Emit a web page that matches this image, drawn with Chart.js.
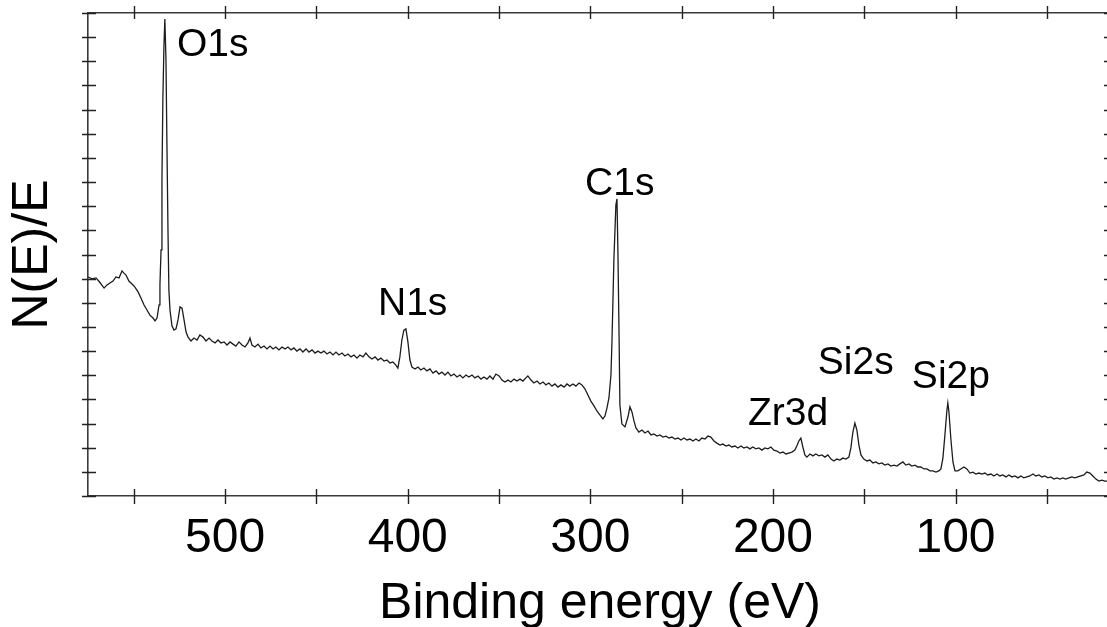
<!DOCTYPE html>
<html>
<head>
<meta charset="utf-8">
<title>XPS survey spectrum</title>
<script src="https://cdn.jsdelivr.net/npm/chart.js@4.4.0/dist/chart.umd.min.js"></script>
<style>
  html, body { margin: 0; padding: 0; background: #fff; overflow: hidden; }
  #wrap { width: 1114px; height: 627px; }
</style>
</head>
<body>
<div id="wrap"><canvas id="xps"></canvas></div>
<script>
// binding energy (eV) left to right
const bindingEnergy = [
  575, 572.9, 570.7, 568.8, 566.3, 564.7, 563.1, 561.4, 559.8, 558.1,
  556.5, 555.4, 554.3, 552.7, 551.0, 549.4, 547.7, 546.1, 544.4, 542.8,
  541.2, 539.5, 538.4, 537.3, 536.2, 535.7, 535.1, 534.6, 534.1, 533.5,
  533.0, 532.4, 531.9, 531.3, 530.8, 530.2, 529.1, 528.0, 526.9, 525.8,
  524.7, 523.6, 522.5, 521.4, 520.3, 518.7, 517.1, 515.4, 513.8, 512.1,
  510.5, 508.8, 507.2, 505.5, 503.9, 502.3, 500.6, 499.0, 497.3, 495.7,
  494.1, 492.4, 490.8, 489.1, 487.5, 486.4, 485.3, 483.7, 482.0, 480.4,
  478.7, 477.1, 475.4, 473.8, 472.2, 470.5, 468.9, 467.2, 465.6, 463.9,
  462.3, 460.7, 459.0, 457.4, 455.7, 454.1, 452.4, 450.8, 449.2, 447.5,
  445.9, 444.2, 442.6, 440.9, 439.3, 437.7, 436.0, 434.4, 432.7, 431.1,
  429.4, 427.8, 426.2, 424.5, 422.9, 421.2, 419.6, 417.9, 416.3, 414.7,
  413.0, 411.4, 409.7, 408.1, 406.5, 405.4, 404.3, 403.2, 402.1, 401.0,
  399.9, 398.8, 397.7, 396.0, 394.4, 392.8, 391.1, 389.5, 387.8, 386.2,
  384.5, 382.9, 381.3, 379.6, 378.0, 376.3, 374.7, 373.0, 371.4, 369.8,
  368.1, 366.5, 364.8, 363.2, 361.5, 359.9, 358.3, 356.6, 355.0, 353.3,
  351.7, 350.0, 348.4, 346.8, 345.1, 343.5, 341.8, 340.2, 338.5, 336.9,
  335.3, 334.2, 332.5, 330.9, 329.2, 327.6, 325.9, 324.3, 322.7, 321.0,
  319.4, 317.7, 316.1, 314.4, 312.8, 311.2, 309.5, 307.9, 306.2, 304.6,
  302.9, 301.3, 299.7, 298.0, 296.4, 294.7, 293.1, 292.0, 290.9, 289.8,
  288.7, 288.2, 287.6, 287.1, 286.5, 286.0, 285.4, 284.9, 284.3, 283.8,
  282.7, 281.0, 279.4, 278.3, 277.2, 276.1, 275.0, 273.4, 271.7, 270.1,
  268.4, 266.8, 265.2, 263.5, 261.9, 260.2, 258.6, 256.9, 255.3, 253.7,
  252.0, 250.4, 248.7, 247.1, 245.4, 243.8, 242.2, 240.5, 238.9, 237.2,
  235.6, 234.0, 232.3, 230.7, 229.0, 227.4, 225.7, 224.1, 222.5, 220.8,
  219.2, 217.5, 215.9, 214.2, 212.6, 211.0, 209.3, 207.7, 206.0, 204.4,
  202.7, 201.1, 199.5, 197.8, 196.2, 194.5, 192.9, 191.2, 189.6, 188.0,
  186.9, 185.8, 184.7, 183.6, 182.5, 181.4, 179.7, 178.1, 176.5, 174.8,
  173.2, 171.5, 169.9, 168.2, 166.6, 165.0, 163.3, 161.7, 160.0, 158.4,
  157.3, 156.2, 155.1, 154.0, 152.9, 151.8, 150.2, 148.5, 146.9, 145.2,
  143.6, 142.0, 140.3, 138.7, 137.0, 135.4, 133.7, 132.1, 130.5, 128.8,
  127.2, 125.5, 123.9, 122.2, 120.6, 119.0, 117.3, 115.7, 114.0, 112.4,
  110.7, 109.1, 108.0, 106.9, 105.8, 104.7, 104.2, 103.6, 102.5, 101.4,
  100.3, 98.7, 97.1, 95.4, 93.8, 92.1, 90.5, 88.8, 87.2, 85.6,
  83.9, 82.3, 80.6, 79.0, 77.3, 75.7, 74.1, 72.4, 70.8, 69.1,
  67.5, 65.8, 64.2, 62.6, 60.9, 59.3, 57.6, 56.0, 54.3, 52.7,
  51.1, 49.4, 47.8, 46.1, 44.5, 42.8, 41.2, 39.6, 37.9, 36.3,
  34.6, 33.0, 31.3, 29.7, 28.1, 26.4, 24.8, 23.1, 21.5, 19.8,
  18.2, 16.5, 14.3
];

// N(E)/E, arbitrary units (axis runs 0..20)
const intensity = [
  9.07, 8.99, 9.03, 8.86, 8.61, 8.74, 8.82, 8.90, 9.07, 9.03,
  9.32, 9.23, 9.15, 8.90, 8.78, 8.65, 8.45, 8.20, 7.91, 7.70,
  7.49, 7.37, 7.25, 7.37, 7.91, 8.74, 10.19, 13.08, 16.40, 18.67,
  19.75, 18.05, 14.74, 11.01, 8.53, 7.70, 7.04, 6.87, 6.92, 7.29,
  7.83, 7.78, 7.29, 6.79, 6.58, 6.42, 6.54, 6.46, 6.67, 6.58,
  6.42, 6.54, 6.42, 6.34, 6.46, 6.34, 6.38, 6.25, 6.38, 6.29,
  6.21, 6.38, 6.25, 6.17, 6.34, 6.54, 6.25, 6.17, 6.29, 6.13,
  6.21, 6.09, 6.21, 6.09, 6.17, 6.05, 6.17, 6.09, 6.17, 6.05,
  6.13, 6.00, 6.09, 5.96, 6.09, 5.96, 6.05, 5.92, 6.00, 5.92,
  6.00, 5.88, 5.96, 5.84, 5.96, 5.84, 5.92, 5.80, 5.88, 5.76,
  5.84, 5.71, 5.84, 5.76, 5.92, 5.76, 5.67, 5.76, 5.63, 5.71,
  5.59, 5.63, 5.51, 5.55, 5.42, 5.30, 5.76, 6.46, 6.87, 6.92,
  6.38, 5.63, 5.34, 5.26, 5.34, 5.22, 5.30, 5.18, 5.26, 5.09,
  5.18, 5.05, 5.13, 5.01, 5.13, 4.97, 5.05, 4.93, 5.01, 4.89,
  5.01, 4.93, 5.01, 4.89, 4.97, 4.84, 4.93, 4.84, 4.97, 4.84,
  5.05, 4.97, 4.80, 4.72, 4.80, 4.72, 4.84, 4.76, 4.84, 4.76,
  4.89, 4.97, 4.80, 4.68, 4.76, 4.64, 4.72, 4.60, 4.68, 4.55,
  4.64, 4.51, 4.60, 4.51, 4.64, 4.55, 4.64, 4.55, 4.68, 4.60,
  4.43, 4.18, 3.93, 3.73, 3.52, 3.35, 3.19, 3.31, 3.64, 4.06,
  5.01, 6.25, 8.12, 9.77, 11.01, 12.05, 12.30, 10.19, 6.87, 3.77,
  2.98, 2.86, 3.27, 3.69, 3.48, 3.11, 2.82, 2.65, 2.73, 2.61,
  2.69, 2.53, 2.57, 2.48, 2.53, 2.44, 2.48, 2.40, 2.44, 2.36,
  2.40, 2.32, 2.40, 2.32, 2.36, 2.28, 2.36, 2.28, 2.40, 2.36,
  2.48, 2.44, 2.28, 2.19, 2.11, 2.15, 2.07, 2.11, 2.03, 2.07,
  1.99, 2.07, 1.99, 2.03, 1.95, 2.03, 1.95, 1.99, 1.90, 1.99,
  1.95, 2.03, 1.90, 1.86, 1.78, 1.82, 1.74, 1.78, 1.82, 1.90,
  2.07, 2.28, 2.40, 2.03, 1.70, 1.61, 1.74, 1.66, 1.74, 1.66,
  1.70, 1.61, 1.70, 1.53, 1.45, 1.53, 1.49, 1.57, 1.53, 1.61,
  1.99, 2.65, 3.02, 2.73, 2.11, 1.70, 1.53, 1.45, 1.49, 1.37,
  1.41, 1.33, 1.37, 1.28, 1.33, 1.24, 1.28, 1.24, 1.33, 1.41,
  1.28, 1.33, 1.24, 1.28, 1.20, 1.20, 1.12, 1.12, 1.04, 1.04,
  0.99, 1.04, 1.12, 1.57, 2.53, 3.56, 3.85, 3.48, 2.32, 1.41,
  1.04, 1.04, 1.12, 1.20, 1.12, 0.95, 0.99, 0.91, 0.95, 0.91,
  0.95, 0.87, 0.91, 0.83, 0.91, 0.83, 0.87, 0.79, 0.87, 0.79,
  0.83, 0.75, 0.83, 0.75, 0.79, 0.83, 0.91, 0.83, 0.87, 0.79,
  0.83, 0.75, 0.79, 0.70, 0.75, 0.70, 0.75, 0.70, 0.75, 0.79,
  0.75, 0.79, 0.83, 0.87, 0.99, 0.95, 0.83, 0.70, 0.62, 0.66,
  0.62, 0.62, 0.66
];

// tick labels on the energy axis
const xTickLabels = [500, 400, 300, 200, 100];

// peak assignments and where their labels sit (eV, intensity)
const peakNames = ['O1s', 'N1s', 'C1s', 'Zr3d', 'Si2s', 'Si2p'];
const peakLabelEnergy = [526.4, 416.3, 302.9, 213.7, 175.4, 123.9];
const peakLabelIntensity = [18.2, 7.49, 12.46, 2.94, 5.05, 4.47];

const E_MIN = 14.3, E_MAX = 575.1;
const FONT = '"Liberation Sans", Arial, Helvetica, sans-serif';
const axisBorder = { display: true, color: '#3a3a3a', width: 1.6 };

Chart.defaults.font.family = FONT;
Chart.defaults.color = '#000';

// tick marks that cross the frame, like the original plot
const frameTicks = {
  id: 'frameTicks',
  afterDraw(chart) {
    const { ctx, chartArea: a, scales } = chart;
    ctx.save();
    ctx.strokeStyle = '#222';
    ctx.lineWidth = 1.4;
    ctx.beginPath();
    scales.x.ticks.forEach(t => {
      if (t.value % 50 !== 0) return;
      const px = Math.round(scales.x.getPixelForValue(t.value)) + 0.5;
      ctx.moveTo(px, a.bottom - 7);
      ctx.lineTo(px, a.bottom + 8);
      ctx.moveTo(px, a.top - 7);
      ctx.lineTo(px, a.top + 6);
    });
    scales.y.ticks.forEach(t => {
      const py = Math.round(scales.y.getPixelForValue(t.value)) + 0.5;
      ctx.moveTo(a.left - 6, py);
      ctx.lineTo(a.left + 8, py);
      ctx.moveTo(a.right - 8, py);
      ctx.lineTo(a.right, py);
    });
    ctx.stroke();
    ctx.restore();
  }
};

// peak names written next to each peak
const peakLabels = {
  id: 'peakLabels',
  afterDatasetsDraw(chart) {
    const { ctx, scales } = chart;
    ctx.save();
    ctx.font = '39px ' + FONT;
    ctx.fillStyle = '#000';
    ctx.textAlign = 'left';
    ctx.textBaseline = 'alphabetic';
    peakNames.forEach((name, i) => {
      ctx.fillText(name,
        scales.x.getPixelForValue(peakLabelEnergy[i]),
        scales.y.getPixelForValue(peakLabelIntensity[i]));
    });
    ctx.restore();
  }
};

new Chart(document.getElementById('xps'), {
  type: 'line',
  data: {
    datasets: [{
      label: 'XPS survey',
      data: bindingEnergy.map((e, i) => ({ x: e, y: intensity[i] })),
      borderColor: '#1c1c1c',
      borderWidth: 1.3,
      pointRadius: 0,
      tension: 0,
      fill: false
    }]
  },
  options: {
    responsive: true,
    maintainAspectRatio: false,
    animation: false,
    events: [],
    layout: { padding: 0 },
    plugins: {
      legend: { display: false },
      tooltip: { enabled: false }
    },
    scales: {
      x: {
        type: 'linear',
        position: 'bottom',
        reverse: true,
        min: E_MIN,
        max: E_MAX,
        afterFit: s => { s.height = 131; },
        grid: { display: false },
        border: axisBorder,
        ticks: {
          stepSize: 50,
          includeBounds: false,
          autoSkip: false,
          maxRotation: 0,
          padding: 6,
          color: '#000',
          font: { size: 48 },
          callback: v => xTickLabels.includes(v) ? String(v) : ''
        },
        title: {
          display: true,
          text: 'Binding energy (eV)',
          color: '#000',
          font: { size: 50, lineHeight: 0.9 },
          padding: 0
        }
      },
      xTop: {
        type: 'linear',
        position: 'top',
        reverse: true,
        min: E_MIN,
        max: E_MAX,
        afterFit: s => { s.height = 13; },
        grid: { display: false },
        border: axisBorder,
        ticks: { display: false, stepSize: 50, includeBounds: false }
      },
      y: {
        type: 'linear',
        position: 'left',
        min: 0,
        max: 20,
        afterFit: s => { s.width = 88; },
        grid: { display: false },
        border: axisBorder,
        ticks: { display: false, stepSize: 1 },
        title: {
          display: true,
          text: 'N(E)/E',
          color: '#000',
          font: { size: 50, lineHeight: 1 },
          padding: { top: 8, bottom: 0 }
        }
      },
      yRight: {
        type: 'linear',
        position: 'right',
        min: 0,
        max: 20,
        afterFit: s => { s.width = 2; },
        grid: { display: false },
        border: axisBorder,
        ticks: { display: false, stepSize: 1 }
      }
    }
  },
  plugins: [frameTicks, peakLabels]
});
</script>
</body>
</html>
